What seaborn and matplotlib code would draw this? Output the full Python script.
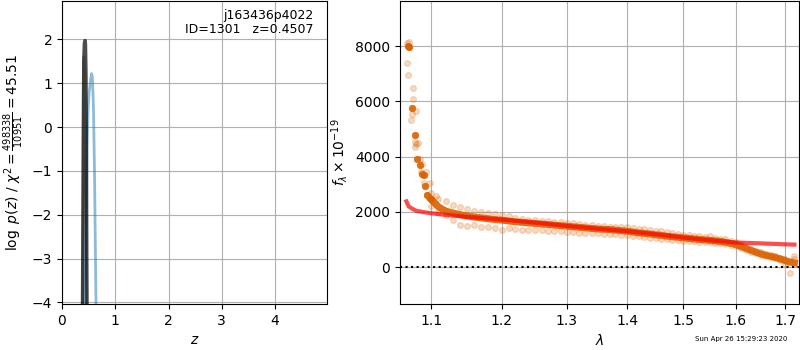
"""
Redshift fit summary: p(z) panel and spectrum + model panel
"""
import matplotlib
matplotlib.use('Agg')
import matplotlib.pyplot as plt
import matplotlib.ticker as mticker
import seaborn as sns

# ---- left panel: log p(z) ----
z_pdf = [0.385, 0.39, 0.40, 0.41, 0.42, 0.43, 0.435, 0.44, 0.45, 0.46, 0.465, 0.47]
logp_pdf = [-4.2, -3.0, -0.5, 1.5, 1.9, 1.97, 1.97, 1.9, 1.2, -1.0, -3.0, -4.2]

z_prior = [0.385, 0.392, 0.398, 0.405, 0.42, 0.44, 0.46]
logp_prior = [-4.2, -2.2, 0.8, 1.6, 1.4, 0.6, -4.2]

z_chi2 = [0.43, 0.45, 0.47, 0.49, 0.51, 0.52, 0.54, 0.555, 0.57, 0.59, 0.61, 0.625, 0.64]
logp_chi2 = [-4.2, -2.5, -0.5, 0.4, 0.8, 0.9, 1.1, 1.22, 1.15, 0.5, -1.0, -2.6, -4.2]

z_ticks = [0, 1, 2, 3, 4]
logp_ticks = [-4, -3, -2, -1, 0, 1, 2]

# ---- right panel: spectrum ----
# steep blue end, individual light points
blue_wave = [1.0685, 1.0700, 1.0705, 1.0683, 1.0696, 1.0762, 1.0762, 1.0800, 1.0740,
             1.0730, 1.0780, 1.0830, 1.0790, 1.0800, 1.0850, 1.0880, 1.0870, 1.0910,
             1.0930, 1.0990, 1.0940, 1.1060, 1.1000]
blue_flux = [8100, 8150, 7950, 7380, 6960, 6480, 6090, 5650, 5530,
             5330, 4540, 4480, 4360, 4450, 3900, 3750, 3450, 3030,
             3450, 3050, 2610, 2570, 2480]

wave = [1.10, 1.11, 1.12, 1.13, 1.14, 1.15, 1.16, 1.17, 1.18, 1.19,
        1.20, 1.21, 1.22, 1.23, 1.24, 1.25, 1.26, 1.27, 1.28, 1.29,
        1.30, 1.31, 1.32, 1.33, 1.34, 1.35, 1.36, 1.37, 1.38, 1.39,
        1.40, 1.41, 1.42, 1.43, 1.44, 1.45, 1.46, 1.47, 1.48, 1.49,
        1.50, 1.51, 1.52, 1.53, 1.54, 1.55, 1.56, 1.57, 1.58, 1.59,
        1.60, 1.61, 1.62, 1.63, 1.64, 1.65, 1.66, 1.67, 1.68, 1.69,
        1.70, 1.71, 1.72]

flux_a = [2700, 2450, 2380, 2260, 2160, 2090, 2040, 1990, 1950, 1910,
          1880, 1850, 1780, 1740, 1710, 1700, 1680, 1660, 1640, 1620,
          1600, 1580, 1560, 1540, 1520, 1500, 1490, 1470, 1460, 1450,
          1440, 1420, 1390, 1370, 1350, 1320, 1290, 1260, 1230, 1200,
          1170, 1150, 1130, 1110, 1100, 1120, 1060, 1030, 1000, 950,
          900, 820, 740, 660, 590, 530, 480, 430, 390, 340,
          290, 230, 300]

flux_b = [2200, 2000, 1880, 1700, 1520, 1480, 1520, 1470, 1450, 1400,
          1360, 1400, 1380, 1350, 1360, 1340, 1330, 1320, 1300, 1290,
          1270, 1260, 1250, 1240, 1230, 1220, 1210, 1200, 1190, 1180,
          1160, 1140, 1110, 1080, 1050, 1040, 1020, 1000, 990, 970,
          950, 940, 930, 920, 910, 900, 880, 860, 840, 800,
          760, 700, 630, 560, 500, 450, 400, 360, 320, 270,
          120, -200, 400]

# binned (dark) spectrum
bin_steep_wave = [1.069, 1.070, 1.075, 1.0784, 1.0815, 1.085, 1.088, 1.090, 1.092, 1.095, 1.10]
bin_steep_flux = [8020, 7980, 5750, 4783, 3902, 3696, 3380, 3350, 2935, 2608, 2450]

flux_bin = [2450, 2180, 2030, 1960, 1900, 1850, 1810, 1780, 1750, 1720,
            1700, 1670, 1640, 1620, 1600, 1580, 1560, 1540, 1520, 1500,
            1480, 1460, 1440, 1420, 1400, 1380, 1370, 1360, 1340, 1320,
            1300, 1270, 1240, 1220, 1200, 1170, 1150, 1120, 1100, 1080,
            1060, 1040, 1020, 1000, 985, 970, 950, 930, 900, 860,
            820, 750, 680, 610, 540, 480, 430, 390, 350, 300,
            240, 180, 150]

model_wave = [1.067, 1.070, 1.075, 1.08, 1.09, 1.10, 1.12, 1.15, 1.20, 1.25, 1.30,
              1.35, 1.40, 1.45, 1.50, 1.55, 1.60, 1.65, 1.70, 1.72]
model_flux = [2380, 2200, 2110, 2040, 1990, 1950, 1890, 1820, 1720, 1610, 1490,
              1390, 1300, 1190, 1070, 975, 890, 860, 825, 815]

wave_ticks = [1.1, 1.2, 1.3, 1.4, 1.5, 1.6, 1.7]
flux_ticks = [0, 2000, 4000, 6000, 8000]

light_c = (0.87, 0.42, 0.05)
dark_c = (0.85, 0.38, 0.0)

fig = plt.figure(figsize=(8, 3.5), dpi=100)
ax1 = fig.add_axes([0.0775, 0.131, 0.3315, 0.866])
ax2 = fig.add_axes([0.5, 0.131, 0.499, 0.866])

# left panel
sns.lineplot(x=z_prior, y=logp_prior, ax=ax1, color='0.3', alpha=0.3, lw=2,
             sort=False, estimator=None)
sns.lineplot(x=z_chi2, y=logp_chi2, ax=ax1, color='tab:blue', alpha=0.5, lw=2,
             sort=False, estimator=None)
sns.lineplot(x=z_pdf, y=logp_pdf, ax=ax1, color='k', alpha=0.7, lw=2.5,
             sort=False, estimator=None)
ax1.set_xlim(0, 4.98)
ax1.set_ylim(-4.04, 2.874)
ax1.set_xticks(z_ticks)
ax1.set_yticks(logp_ticks)
ax1.grid(True)
ax1.set_xlabel(r'$z$')
ax1.set_ylabel(r'$\log\ p(z)$' + ' / ' + r'$\chi^2=\frac{498338}{10951}=45.51$')
ax1.text(0.95, 0.975, 'j163436p4022\nID=1301   z=0.4507', transform=ax1.transAxes,
         ha='right', va='top', fontsize=9, linespacing=1.15)

# right panel
for w, f in [(blue_wave, blue_flux), (wave, flux_a), (wave, flux_b)]:
    sns.scatterplot(x=w, y=f, ax=ax2, color=light_c, alpha=0.25, s=18,
                    edgecolor=light_c, linewidth=0.8, zorder=2)
sns.lineplot(x=wave, y=flux_bin, ax=ax2, color=dark_c, alpha=0.9, lw=5,
             sort=False, estimator=None, zorder=3)
sns.scatterplot(x=bin_steep_wave, y=bin_steep_flux, ax=ax2,
                color=dark_c, alpha=0.9, s=22, edgecolor=dark_c, linewidth=0.5, zorder=3)
sns.lineplot(x=model_wave, y=model_flux, ax=ax2, color='r', alpha=0.7, lw=3,
             sort=False, estimator=None, zorder=4)
ax2.axhline(0, color='k', ls=':', lw=1.5, zorder=5)

ax2.set_xscale('log')
ax2.set_xlim(1.0587, 1.73)
ax2.set_ylim(-1340, 9630)
ax2.xaxis.set_major_locator(mticker.FixedLocator(wave_ticks))
ax2.xaxis.set_major_formatter(mticker.FormatStrFormatter('%.1f'))
ax2.xaxis.set_minor_locator(mticker.NullLocator())
ax2.set_yticks(flux_ticks)
ax2.grid(True)
ax2.set_xlabel(r'$\lambda$')
ax2.set_ylabel(r'$f_\lambda\times10^{-19}$')

fig.text(0.984, 0.03, 'Sun Apr 26 15:29:23 2020', ha='right', va='center', fontsize=5)

fig.savefig('out.png', dpi=100)
